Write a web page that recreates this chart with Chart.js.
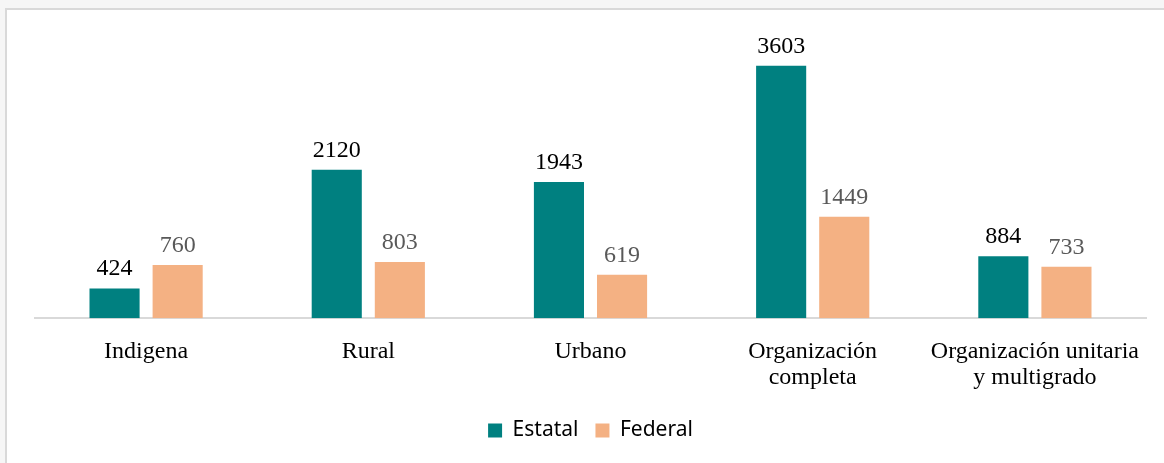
<!DOCTYPE html>
<html>
<head>
<meta charset="utf-8">
<script src="https://cdn.jsdelivr.net/npm/chart.js@4"></script>
<style>
  body { margin: 0; background: #f6f6f6; }
  .frame {
    position: absolute; left: 5px; top: 8px;
    width: 1159px; height: 455px;
    border-left: 2px solid #d9d9d9; border-top: 2px solid #d9d9d9;
    background: #fff;
  }
  canvas { display: block; }
</style>
</head>
<body>
<div class="frame"><canvas id="chart" width="1157" height="453"></canvas></div>
<script>
// Chart data
const categories = ["Indigena", "Rural", "Urbano", ["Organización", "completa"], ["Organización unitaria", "y multigrado"]];
const estatal = [424, 2120, 1943, 3603, 884];
const federal = [760, 803, 619, 1449, 733];

// value labels above bars
const valueLabels = {
  id: 'valueLabels',
  afterDatasetsDraw(chart) {
    const ctx = chart.ctx;
    ctx.save();
    ctx.font = '24px "Liberation Serif", "Times New Roman", serif';
    ctx.textAlign = 'center';
    ctx.textBaseline = 'alphabetic';
    chart.data.datasets.forEach(function (ds, i) {
      ctx.fillStyle = i === 0 ? '#000000' : '#595959';
      chart.getDatasetMeta(i).data.forEach(function (bar, j) {
        ctx.fillText(ds.data[j], bar.x, bar.y - 13);
      });
    });
    ctx.restore();
  }
};

const config = {
  type: 'bar',
  data: {
    labels: categories,
    datasets: [
      { label: 'Estatal', data: estatal, backgroundColor: '#008080', borderWidth: 0 },
      { label: 'Federal', data: federal, backgroundColor: '#f4b183', borderWidth: 0 }
    ]
  },
  options: {
    responsive: false,
    animation: false,
    categoryPercentage: 0.568,
    barPercentage: 0.794,
    layout: { padding: { left: 28, right: 18, top: 28, bottom: 12 } },
    plugins: {
      tooltip: { enabled: false },
      legend: {
        position: 'bottom',
        labels: {
          boxWidth: 14,
          boxHeight: 14,
          padding: 17,
          color: '#000',
          font: { family: '"Noto Sans", "Open Sans", sans-serif', size: 21 }
        }
      }
    },
    scales: {
      x: {
        grid: { display: false },
        border: { display: true, color: '#d9d9d9', width: 2 },
        ticks: {
          color: '#000',
          padding: 12,
          maxRotation: 0,
          font: { family: '"Liberation Serif", "Times New Roman", serif', size: 24, lineHeight: 1.1 }
        }
      },
      y: {
        display: false,
        min: 0,
        max: 4000
      }
    }
  },
  plugins: [valueLabels]
};

const barChart = new Chart(document.getElementById('chart'), config);
</script>
</body>
</html>
